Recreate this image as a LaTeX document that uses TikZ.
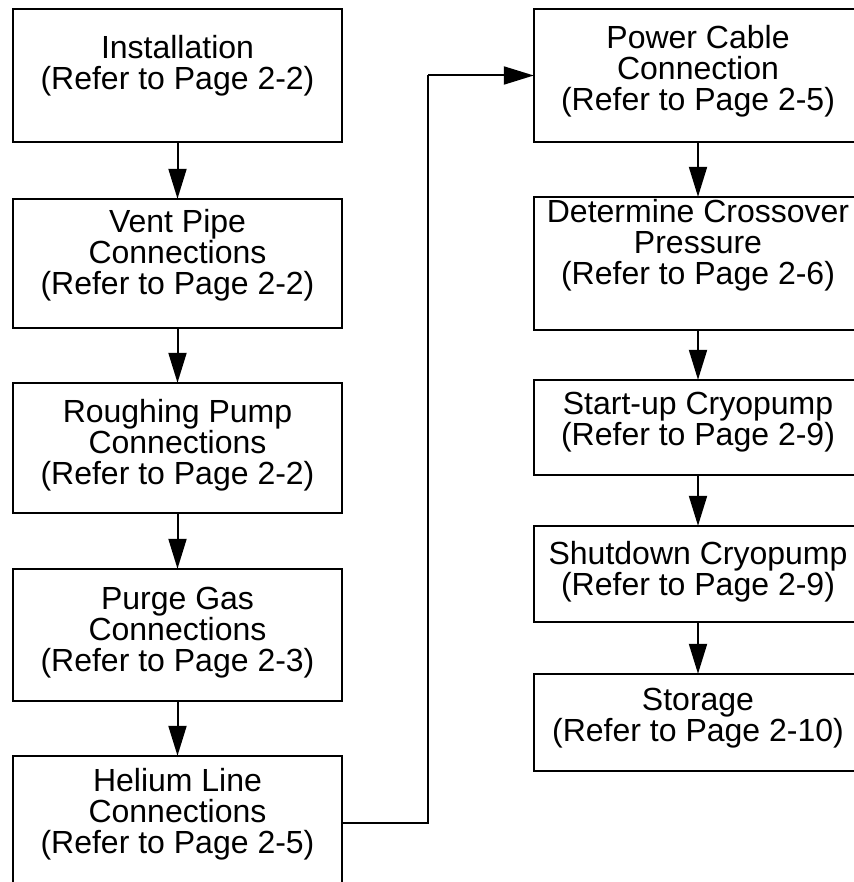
\documentclass[tikz,border=0pt]{standalone}
\usepackage{fontspec}
\setmainfont{Liberation Sans}
\usetikzlibrary{arrows.meta}
\begin{document}
\begin{tikzpicture}[x=1pt,y=-1pt,
  box/.style={draw=black, line width=2.4pt, inner sep=0pt, fill=none},
  lbox/.style={box, minimum width=329pt},
  rbox/.style={box, minimum width=328pt},
  txt/.style={inner sep=0pt, align=center, font=\fontsize{32}{31}\selectfont},
  flow/.style={line width=2pt, -{Triangle[length=30pt,width=18pt]}, shorten >=-1pt},
  link/.style={line width=2pt}]
\useasboundingbox (0,0) rectangle (853,882);
\fill[white] (0,0) rectangle (853,882);
% left column
\node[lbox, minimum height=133pt] (L1) at (177.5,75.5) {};
\node[lbox, minimum height=129pt] (L2) at (177.5,263.5) {};
\node[lbox, minimum height=130pt] (L3) at (177.5,448) {};
\node[lbox, minimum height=132pt] (L4) at (177.5,635) {};
\node[lbox, minimum height=133pt] (L5) at (177.5,822.5) {};
\node[txt] (T1) at (177.5,66) {Installation\\(Refer to Page 2-2)};
\node[txt] (T2) at (177.5,255.5) {Vent Pipe\\Connections\\(Refer to Page 2-2)};
\node[txt] (T3) at (177.5,445.5) {Roughing Pump\\Connections\\(Refer to Page 2-2)};
\node[txt] (T4) at (177.5,632.2) {Purge Gas\\Connections\\(Refer to Page 2-3)};
\node[txt] (T5) at (177.5,813.9) {Helium Line\\Connections\\(Refer to Page 2-5)};
% right column
\node[rbox, minimum height=133pt] (R1) at (698,75.5) {};
\node[rbox, minimum height=133pt] (R2) at (698,263.5) {};
\node[rbox, minimum height=95pt] (R3) at (698,427.5) {};
\node[rbox, minimum height=96pt] (R4) at (698,574) {};
\node[rbox, minimum height=97pt] (R5) at (698,722.5) {};
\node[txt] (U1) at (698,71.4) {Power Cable\\Connection\\(Refer to Page 2-5)};
\node[txt] (U2) at (698,245.5) {Determine Crossover\\Pressure\\(Refer to Page 2-6)};
\node[txt] (U3) at (698,422.2) {Start-up Cryopump\\(Refer to Page 2-9)};
\node[txt] (U4) at (698,571.4) {Shutdown Cryopump\\(Refer to Page 2-9)};
\node[txt] (U5) at (698,718.1) {Storage\\(Refer to Page 2-10)};
% connectors
\draw[flow] (L1) -- (L2);
\draw[flow] (L2) -- (L3);
\draw[flow] (L3) -- (L4);
\draw[flow] (L4) -- (L5);
\coordinate (c1) at (428,822.5);
\coordinate (c2) at (428,75.5);
\draw[link] (L5.east) -- (c1) -- (c2);
\draw[flow] (c2) -- (R1.west);
\draw[flow] (R1) -- (R2);
\draw[flow] (R2) -- (R3);
\draw[flow] (R3) -- (R4);
\draw[flow] (R4) -- (R5);
\end{tikzpicture}
\end{document}
